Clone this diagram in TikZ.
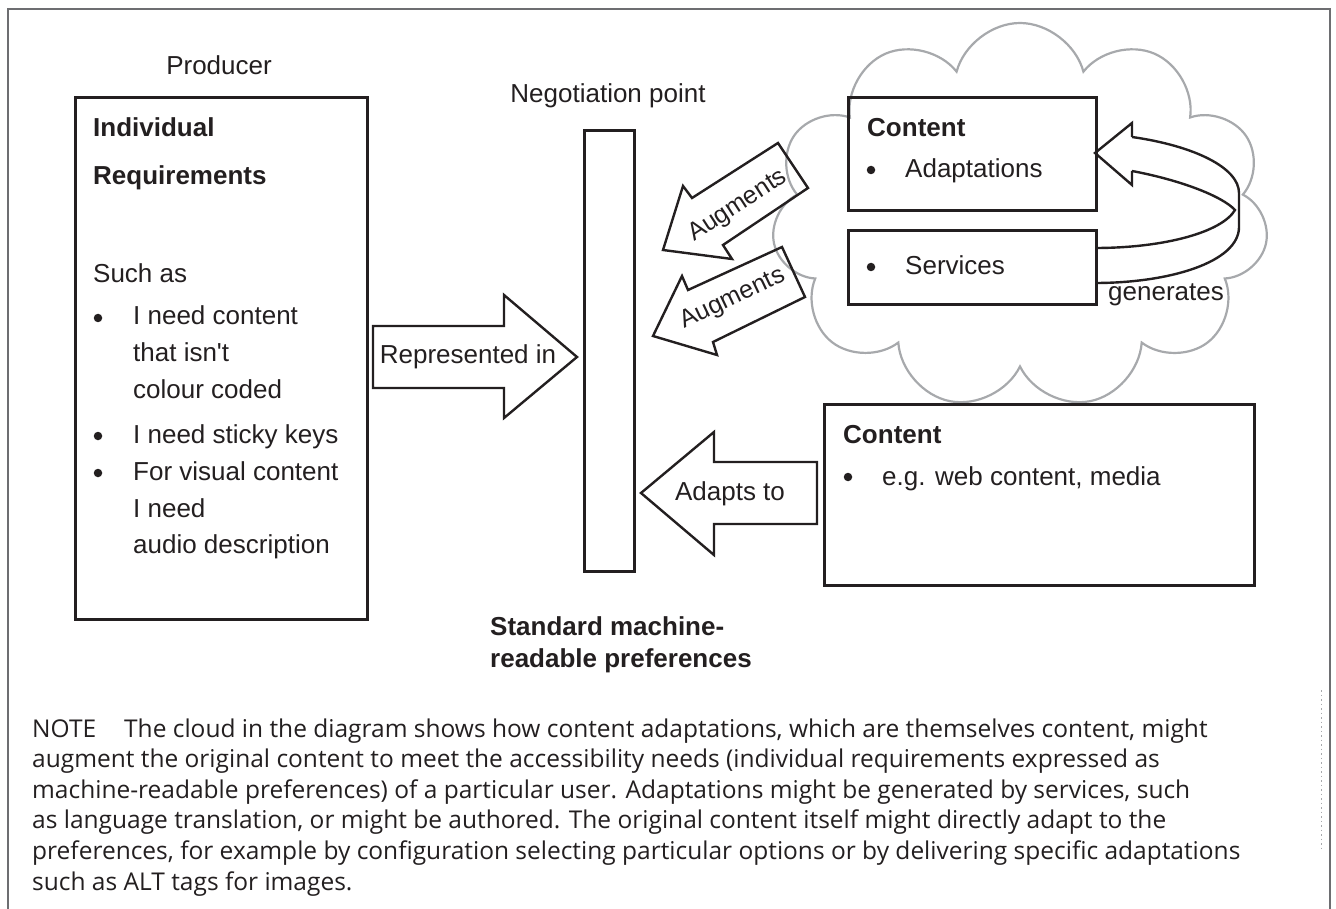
\documentclass[tikz,border=0pt]{standalone}
\usepackage{fontspec}
\setmainfont{Liberation Sans}
\newfontfamily\notefont{Open Sans}
\usetikzlibrary{shapes.symbols}
\definecolor{ink}{HTML}{231F20}
\definecolor{cloudgray}{HTML}{A7A9AC}
\definecolor{framegray}{HTML}{6D6E71}
\begin{document}
\begin{tikzpicture}[x=1pt,y=-1pt,
  txt/.style={inner sep=0pt, anchor=base west, text=ink, font=\fontsize{26}{30}\selectfont},
  btxt/.style={txt, font=\fontsize{26}{30}\selectfont\bfseries},
  ctxt/.style={txt, anchor=base},
  dot/.style={circle, fill=ink, inner sep=0pt, minimum size=8.5pt},
  rtxt/.style={inner sep=0pt, text=ink, font=\fontsize{25}{30}\selectfont},
  notetxt/.style={inner sep=0pt, anchor=base west, text=ink, font=\notefont\fontsize{24.5}{30}\selectfont},
  boxst/.style={draw=ink, line width=2.6pt, inner sep=0pt, anchor=north west},
  arrowst/.style={draw=ink, line width=2.4pt, line join=miter},
  framest/.style={draw=framegray, line width=1.8pt}
]
\useasboundingbox (0,0) rectangle (1336,909);

% frame
\draw[framest] (8,909) -- (8,9) -- (1330,9) -- (1330,909);
\draw[cloudgray, line width=1pt, dash pattern=on 1.5pt off 3pt] (1321,690) -- (1321,850);

% cloud
\node[cloud, cloud puffs=11, cloud ignores aspect, minimum width=497pt, minimum height=386pt,
      draw=cloudgray, line width=2.2pt, inner sep=0pt] (cloud) at (1020,216) {};

% producer
\node[ctxt] (producer) at (219,75) {Producer};
\node[boxst, minimum width=292pt, minimum height=522pt] (req) at (74,96) {};
\node[btxt] (ind) at (93,137) {Individual};
\node[btxt] (reqt) at (93,185) {Requirements};
\node[txt] (such) at (93,283) {Such as};
\node[dot] (b1) at (98,318) {};
\node[txt] (l1) at (133,325) {I need content};
\node[txt] (l2) at (133,361.5) {that isn\textquotesingle t};
\node[txt] (l3) at (133,398) {colour coded};
\node[dot] (b2) at (98,436) {};
\node[txt] (l4) at (133,443) {I need sticky keys};
\node[dot] (b3) at (98,473) {};
\node[txt] (l5) at (133,480) {For visual content};
\node[txt] (l6) at (133,517) {I need};
\node[txt] (l7) at (133,553) {audio description};

% negotiation point
\node[ctxt] (negot) at (608,103) {Negotiation point};
\node[boxst, minimum width=50pt, minimum height=441pt] (bar) at (583,129) {};
\node[btxt] (std1) at (490,635) {Standard machine-};
\node[btxt] (std2) at (490,667) {readable preferences};

% represented in
\draw[arrowst] (373,326) -- (504,326) -- (504,295) -- (577,357) -- (504,418) -- (504,388) -- (373,388) -- cycle;
\node[ctxt] (rep) at (468,363) {Represented in};

% adapts to
\draw[arrowst] (817,462) -- (714,462) -- (714,432) -- (641,493) -- (714,555) -- (714,524) -- (817,524) -- cycle;
\node[ctxt] (adapt) at (730,500) {Adapts to};

% augments arrows
\draw[arrowst] (663,250) -- (683,186) -- (692,198) -- (778,143) -- (808,188) -- (723,245) -- (732,259) -- cycle;
\node[rtxt, rotate=33] (aug1) at (738,206) {Augments};
\draw[arrowst] (653,336) -- (682,276) -- (688,290) -- (782,247) -- (805,297) -- (713,342) -- (717,355) -- cycle;
\node[rtxt, rotate=25.5] (aug2) at (733,299) {Augments};

% cloud contents
\node[boxst, minimum width=248pt, minimum height=113pt] (adbox) at (847,96) {};
\node[btxt] (c1) at (867,137) {Content};
\node[dot] (b4) at (871,170) {};
\node[txt] (adt) at (905,178) {Adaptations};
\node[boxst, minimum width=248pt, minimum height=74pt] (svbox) at (847,229) {};
\node[dot] (b5) at (871,267) {};
\node[txt] (svt) at (905,275) {Services};
\node[txt] (gen) at (1108,301) {generates};

% generates curved arrow
\draw[arrowst] (1132,137) -- (1132,123) -- (1095,153) -- (1132,185) -- (1132,171);
\draw[arrowst] (1132,137) .. controls (1195,146) and (1239,168) .. (1239,193) -- (1239,227)
   .. controls (1239,262) and (1170,283) .. (1095,283);
\draw[arrowst] (1132,171) .. controls (1180,180) and (1222,196) .. (1235,210)
   .. controls (1222,232) and (1165,248) .. (1095,248);

% content box
\node[boxst, minimum width=430pt, minimum height=181pt] (cbox) at (823,403) {};
\node[btxt] (c2) at (843,443) {Content};
\node[dot] (b6) at (848,477) {};
\node[txt] (web) at (882,485) {e.g. web content, media};

% note
\node[notetxt] (n1) at (32,737) {NOTE\hspace{28pt}The cloud in the diagram shows how content adaptations, which are themselves content, might};
\node[notetxt] (n2) at (32,767.6) {augment the original content to meet the accessibility needs (individual requirements expressed as};
\node[notetxt] (n3) at (32,798.2) {machine-readable preferences) of a particular user. Adaptations might be generated by services, such};
\node[notetxt] (n4) at (32,828.8) {as language translation, or might be authored. The original content itself might directly adapt to the};
\node[notetxt] (n5) at (32,859.4) {preferences, for example by configuration selecting particular options or by delivering specific adaptations};
\node[notetxt] (n6) at (32,890) {such as ALT tags for images.};
\end{tikzpicture}
\end{document}
